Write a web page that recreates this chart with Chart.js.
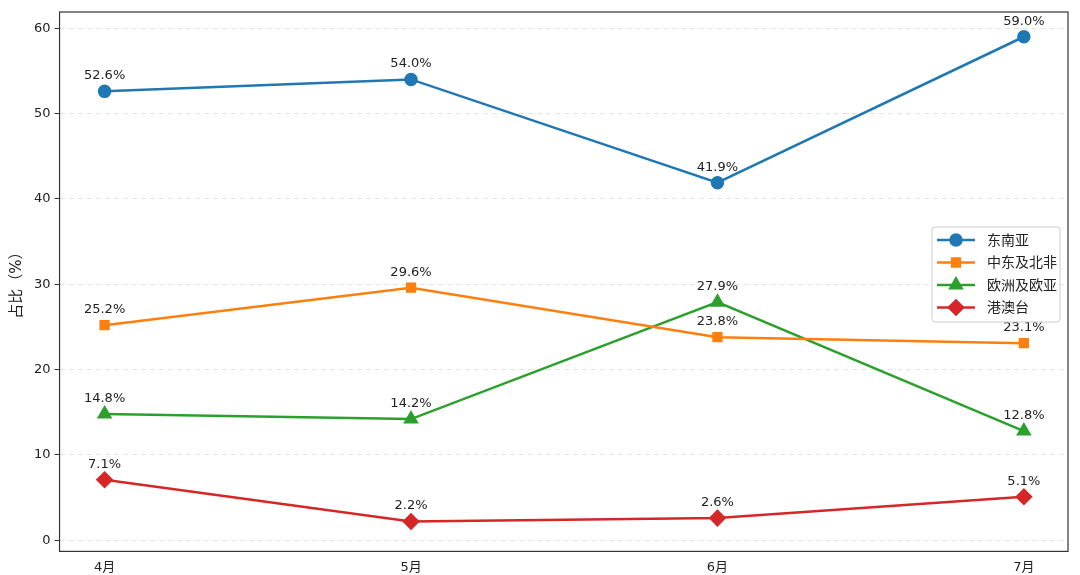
<!DOCTYPE html>
<html>
<head>
<meta charset="utf-8">
<script src="https://cdn.jsdelivr.net/npm/chart.js@4"></script>
<style>
body { margin: 0; background: #fff; }
#wrap { width: 1080px; height: 575px; }
</style>
</head>
<body>
<div id="wrap"><canvas id="chart"></canvas></div>
<script>
// Data
const months = ['4月', '5月', '6月', '7月'];
const seAsia = [52.6, 54.0, 41.9, 59.0];
const mena = [25.2, 29.6, 23.8, 23.1];
const europe = [14.8, 14.2, 27.9, 12.8];
const hkMacauTw = [7.1, 2.2, 2.6, 5.1];
const yTicks = [0, 10, 20, 30, 40, 50, 60];

const FONT = '"DejaVu Sans", "Noto Sans CJK SC", sans-serif';

function series(label, values, color, style, radius) {
    return {
        label: label,
        data: values.map((v, i) => ({ x: i, y: v })),
        borderColor: color,
        backgroundColor: color,
        borderWidth: 2.5,
        pointStyle: style,
        pointRadius: radius,
        pointHoverRadius: radius,
        tension: 0
    };
}

// Value labels above each point
const labelPlugin = {
    id: 'valueLabels',
    afterDatasetsDraw(chart) {
        const ctx = chart.ctx;
        ctx.save();
        ctx.font = '13px ' + FONT;
        ctx.fillStyle = '#222';
        ctx.textAlign = 'center';
        ctx.textBaseline = 'bottom';
        chart.data.datasets.forEach((ds, di) => {
            chart.getDatasetMeta(di).data.forEach((pt, i) => {
                ctx.fillText(ds.data[i].y.toFixed(1) + '%', pt.x, pt.y - 9);
            });
        });
        ctx.restore();
    }
};

// Frame + legend box drawn inside the plot
const framePlugin = {
    id: 'frame',
    afterDraw(chart) {
        const { ctx, chartArea: a } = chart;
        ctx.save();
        ctx.strokeStyle = '#333';
        ctx.lineWidth = 1.2;
        ctx.strokeRect(a.left, a.top, a.right - a.left, a.bottom - a.top);

        const x0 = 932, y0 = 227, w = 128, h = 95;
        ctx.fillStyle = 'rgba(255,255,255,0.85)';
        ctx.strokeStyle = '#ccc';
        ctx.lineWidth = 1;
        ctx.beginPath();
        ctx.roundRect(x0, y0, w, h, 3);
        ctx.fill();
        ctx.stroke();
        ctx.font = '14px ' + FONT;
        ctx.textBaseline = 'middle';
        ctx.textAlign = 'left';
        chart.data.datasets.forEach((ds, i) => {
            const y = y0 + 13 + i * 22.5;
            ctx.strokeStyle = ds.borderColor;
            ctx.lineWidth = 2.5;
            ctx.beginPath();
            ctx.moveTo(x0 + 5, y);
            ctx.lineTo(x0 + 43, y);
            ctx.stroke();
            ctx.fillStyle = ds.borderColor;
            Chart.helpers.drawPoint(ctx, {
                pointStyle: ds.pointStyle, radius: ds.pointRadius, borderWidth: 1
            }, x0 + 24, y);
            ctx.fillStyle = '#222';
            ctx.fillText(ds.label, x0 + 55, y + 1);
        });
        ctx.restore();
    }
};

new Chart(document.getElementById('chart'), {
    type: 'line',
    data: {
        datasets: [
            series('东南亚', seAsia, '#1f77b4', 'circle', 5.5),
            series('中东及北非', mena, '#ff7f0e', 'rect', 5.5),
            series('欧洲及欧亚', europe, '#2ca02c', 'triangle', 6.5),
            series('港澳台', hkMacauTw, '#d62728', 'rectRot', 7)
        ]
    },
    options: {
        responsive: true,
        maintainAspectRatio: false,
        animation: false,
        layout: { padding: { top: 12, right: 12, left: 4, bottom: 0 } },
        plugins: {
            legend: { display: false },
            tooltip: { enabled: false }
        },
        scales: {
            x: {
                type: 'linear',
                min: -0.147,
                max: 3.144,
                grid: { display: false, drawTicks: true },
                border: { display: false },
                afterBuildTicks(axis) {
                    axis.ticks = months.map((m, i) => ({ value: i }));
                },
                ticks: {
                    callback: (v) => months[v],
                    color: '#222',
                    font: { size: 13, family: FONT },
                    maxRotation: 0,
                    padding: 0
                }
            },
            y: {
                min: -1.3,
                max: 61.9,
                afterBuildTicks(axis) {
                    axis.ticks = yTicks.map(v => ({ value: v }));
                },
                grid: {
                    color: '#e3e3e3',
                    borderDash: [5, 4],
                    tickColor: '#333',
                    tickLength: 5
                },
                border: { display: false, dash: [5, 4] },
                ticks: {
                    color: '#222',
                    font: { size: 13, family: FONT },
                    padding: 4
                },
                title: {
                    display: true,
                    text: '占比（%）',
                    color: '#222',
                    font: { size: 15, family: FONT }
                }
            }
        }
    },
    plugins: [labelPlugin, framePlugin]
});
</script>
</body>
</html>
